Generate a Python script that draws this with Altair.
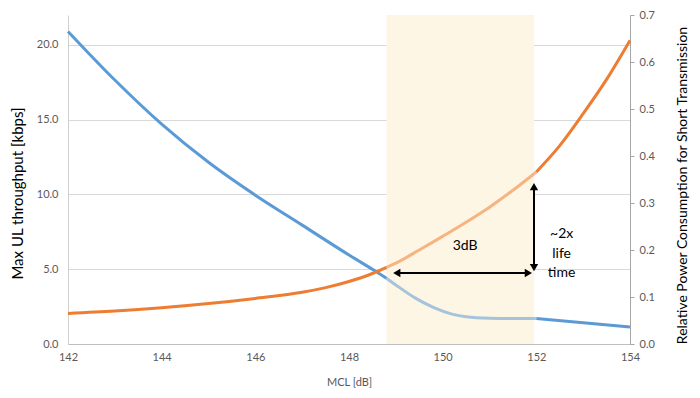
import altair as alt
import pandas as pd

# ---- data ----
mcl_ticks = [142, 144, 146, 148, 150, 152, 154]

blue_x = [142, 143, 144, 145, 146, 147, 148, 148.6, 148.8, 149, 149.4, 149.8, 150.2, 150.5, 151, 151.5, 152, 153, 154]
blue_y = [20.9, 17.65, 14.7, 12.15, 9.95, 7.95, 5.95, 4.8, 4.4, 3.95, 3.1, 2.45, 2.0, 1.82, 1.72, 1.7, 1.7, 1.42, 1.13]

orange_x = [142, 143, 144, 145, 146, 147, 147.5, 148, 148.5, 148.8, 149, 149.5, 150, 150.5, 151, 151.5, 152, 152.5, 153, 153.5, 154]
orange_y = [0.065, 0.070, 0.077, 0.086, 0.097, 0.110, 0.120, 0.133, 0.150, 0.163, 0.172, 0.200, 0.229, 0.259, 0.291, 0.327, 0.366, 0.422, 0.490, 0.563, 0.646]

band = [148.8, 151.95]
arrow_y = 4.75
arrow_x = [148.9, 151.95]
arrow_top = 10.87

BLUE = "#5b9bd5"
ORANGE = "#ed7d31"
FONT = "Lato"
LABEL = "#595959"


def split(xs, ys, name):
    rows = []
    for x, y in zip(xs, ys):
        if x <= band[0]:
            rows.append((x, y, name + "a", 1.0))
        if band[0] <= x <= 152:
            rows.append((x, y, name + "b", 0.55))
        if x >= 152:
            rows.append((x, y, name + "c", 1.0))
    return pd.DataFrame(rows, columns=["x", "y", "seg", "op"])


blue_df = split(blue_x, blue_y, "blue")
orange_df = split(orange_x, orange_y, "orange")

xaxis = alt.Axis(values=mcl_ticks, title="MCL [dB]", grid=False, ticks=False,
                 domainColor="#bfbfbf", labelColor=LABEL, labelFontSize=11,
                 labelFont=FONT, labelPadding=7, titleFont=FONT, titleFontSize=11,
                 titleColor=LABEL, titleFontWeight="normal", titleY=38,
                 titleBaseline="middle", labelFlush=False)
xscale = alt.Scale(domain=[142, 154], nice=False, zero=False)
lscale = alt.Scale(domain=[0, 22], nice=False)
rscale = alt.Scale(domain=[0, 0.7], nice=False)

band_layer = alt.Chart(pd.DataFrame({"a": [band[0]], "b": [band[1]]})).mark_rect(
    color="#fef6e4").encode(
    x=alt.X("a:Q", scale=xscale, axis=xaxis), x2="b:Q")

blue_layer = alt.Chart(blue_df).mark_line(strokeWidth=3, interpolate="monotone", color=BLUE).encode(
    x=alt.X("x:Q", scale=xscale, axis=xaxis),
    y=alt.Y("y:Q", scale=lscale, axis=alt.Axis(
        orient="left", values=[0, 5, 10, 15, 20], format=".1f", grid=True,
        gridColor="#d9d9d9", ticks=False, domainColor="#d0d0d0",
        labelColor=LABEL, labelFontSize=11, labelFont=FONT, labelPadding=10,
        title="Max UL throughput [kbps]", titleFont=FONT, titleFontSize=15,
        titleFontWeight="normal", titleColor="#000000", titleAngle=270,
        titleX=-51, titleY=178, titleAlign="center", titleBaseline="middle")),
    detail="seg:N",
    opacity=alt.Opacity("op:Q", scale=None),
)

orange_layer = alt.Chart(orange_df).mark_line(strokeWidth=3, interpolate="monotone", color=ORANGE).encode(
    x=alt.X("x:Q", scale=xscale, axis=xaxis),
    y=alt.Y("y:Q", scale=rscale, axis=alt.Axis(
        orient="right", values=[0, 0.1, 0.2, 0.3, 0.4, 0.5, 0.6, 0.7], format=".1f",
        grid=False, ticks=True, tickSize=4, tickColor="#a6a6a6", domainColor="#a6a6a6",
        labelColor=LABEL, labelFontSize=11, labelFont=FONT, labelPadding=5,
        title="Relative Power Consumption for Short Transmission", titleFont=FONT,
        titleFontSize=14, titleFontWeight="normal", titleColor="#000000",
        titleAngle=270, titleX=52, titleY=170, titleAlign="center", titleBaseline="middle")),
    detail="seg:N",
    opacity=alt.Opacity("op:Q", scale=None),
)

# arrows
hrule = alt.Chart(pd.DataFrame({"x": [arrow_x[0] + 0.1], "x2": [arrow_x[1] - 0.1], "y": [arrow_y]})).mark_rule(
    color="black", strokeWidth=2).encode(
    x=alt.X("x:Q", scale=xscale, axis=xaxis), x2="x2:Q",
    y=alt.Y("y:Q", scale=lscale, axis=None))
vrule = alt.Chart(pd.DataFrame({"x": [arrow_x[1]], "y": [arrow_y + 0.3], "y2": [arrow_top - 0.3]})).mark_rule(
    color="black", strokeWidth=2).encode(
    x=alt.X("x:Q", scale=xscale, axis=xaxis),
    y=alt.Y("y:Q", scale=lscale, axis=None), y2="y2:Q")

heads_df = pd.DataFrame({
    "x": [arrow_x[0] + 0.12, arrow_x[1] - 0.12, arrow_x[1], arrow_x[1]],
    "y": [arrow_y, arrow_y, arrow_y + 0.35, arrow_top - 0.35],
    "shape": ["triangle-left", "triangle-right", "triangle-down", "triangle-up"],
})
heads = alt.Chart(heads_df).mark_point(filled=True, color="black", opacity=1, size=70).encode(
    x=alt.X("x:Q", scale=xscale, axis=xaxis),
    y=alt.Y("y:Q", scale=lscale, axis=None),
    shape=alt.Shape("shape:N", scale=None),
)

texts_df = pd.DataFrame({"x": [150.48, 152.54], "y": [6.53, 7.33], "t": ["3dB", "~2x\nlife\ntime"]})
texts = alt.Chart(texts_df).mark_text(font=FONT, fontSize=14, color="#000000", lineBreak="\n",
                                      lineHeight=19.5, baseline="middle", align="center").encode(
    x=alt.X("x:Q", scale=xscale, axis=xaxis),
    y=alt.Y("y:Q", scale=lscale, axis=None),
    text="t:N",
)

chart = alt.layer(band_layer, blue_layer, orange_layer, hrule, vrule, heads, texts).resolve_scale(
    y="independent").resolve_axis(y="independent").properties(
    width=562, height=329,
    autosize=alt.AutoSizeParams(type="none"),
    padding={"left": 60, "top": 7, "right": 62, "bottom": 45},
).configure_view(strokeWidth=0)

chart.save("out.html", embed_options={"renderer": "svg", "actions": False})
